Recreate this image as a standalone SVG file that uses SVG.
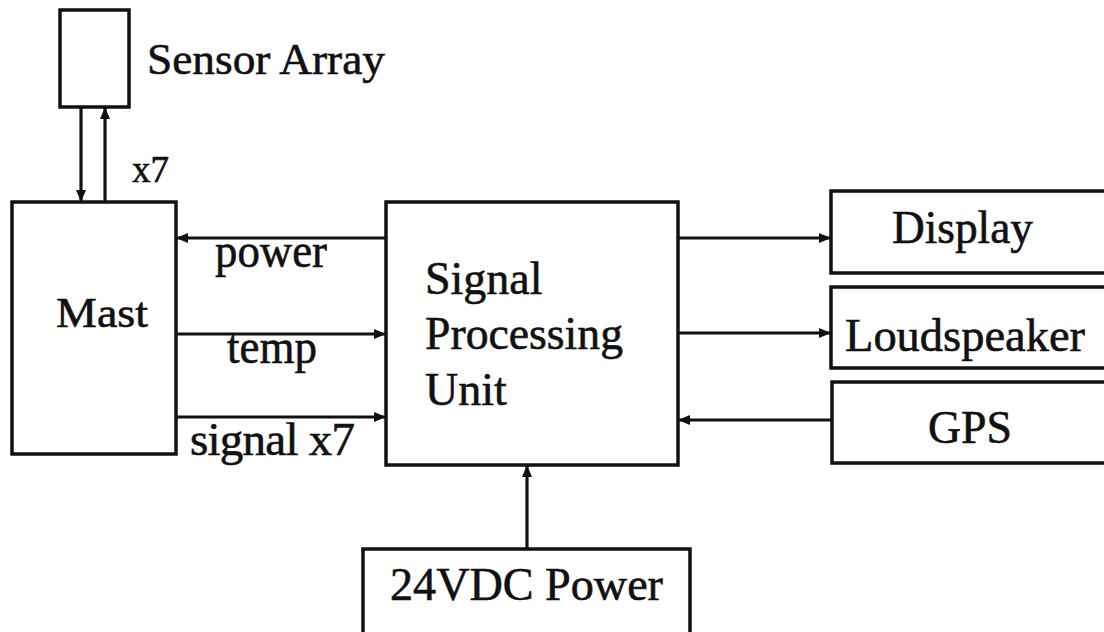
<svg xmlns="http://www.w3.org/2000/svg" width="1104" height="632" viewBox="0 0 1104 632">
<style>
.box{fill:#fff;stroke:#111;stroke-width:3.5}
.ln{fill:none;stroke:#111;stroke-width:3.2;marker-end:url(#ah)}
text{font-family:"Liberation Serif","Times New Roman",serif;font-size:45px;fill:#111;stroke:#111;stroke-width:0.6}
</style>
<defs>
<marker id="ah" markerUnits="userSpaceOnUse" markerWidth="12" markerHeight="10" refX="11" refY="5" orient="auto">
<path d="M0,0 L12,5 L0,10 Z" fill="#111"/>
</marker>
</defs>
<rect width="1104" height="632" fill="#fff"/>
<g id="connectors">
<line class="ln" x1="81" y1="107" x2="81" y2="201"/>
<line class="ln" x1="105" y1="202" x2="105" y2="108"/>
<line class="ln" x1="386" y1="238" x2="177" y2="238"/>
<line class="ln" x1="176" y1="334" x2="385" y2="334"/>
<line class="ln" x1="176" y1="417" x2="385" y2="417"/>
<line class="ln" x1="678" y1="238" x2="830" y2="238"/>
<line class="ln" x1="678" y1="333" x2="830" y2="333"/>
<line class="ln" x1="832" y1="420" x2="679" y2="420"/>
<line class="ln" x1="527" y1="549" x2="527" y2="466"/>
<text x="132" y="182" style="font-size:37px">x7</text>
<text x="215" y="267" textLength="112" lengthAdjust="spacingAndGlyphs" style="font-size:48px">power</text>
<text x="227" y="363" textLength="90" lengthAdjust="spacingAndGlyphs" style="font-size:48px">temp</text>
<text x="190" y="455" textLength="165" lengthAdjust="spacing" style="font-size:47px">signal x7</text>
</g>
<g id="sensor-array">
<rect class="box" x="60" y="10" width="69" height="97"/>
<text x="147" y="74" textLength="238" lengthAdjust="spacingAndGlyphs">Sensor Array</text>
</g>
<g id="mast">
<rect class="box" x="12" y="202" width="164" height="252"/>
<text x="56" y="327" textLength="92" lengthAdjust="spacingAndGlyphs" style="font-size:42px">Mast</text>
</g>
<g id="spu">
<rect class="box" x="386" y="202" width="292" height="263"/>
<text x="425" y="294" style="font-size:46px">Signal</text>
<text x="425" y="349" textLength="198" lengthAdjust="spacingAndGlyphs" style="font-size:46px">Processing</text>
<text x="425" y="405" style="font-size:46px">Unit</text>
</g>
<g id="display">
<rect class="box" x="831" y="191" width="290" height="82"/>
<text x="892" y="243" textLength="141" lengthAdjust="spacingAndGlyphs" style="font-size:46px">Display</text>
</g>
<g id="loudspeaker">
<rect class="box" x="831" y="287" width="290" height="81"/>
<text x="845" y="351" textLength="240" lengthAdjust="spacingAndGlyphs" style="font-size:46px">Loudspeaker</text>
</g>
<g id="gps">
<rect class="box" x="832" y="382" width="290" height="81"/>
<text x="928" y="443" textLength="84" lengthAdjust="spacingAndGlyphs" style="font-size:46px">GPS</text>
</g>
<g id="power-24vdc">
<rect class="box" x="363" y="549" width="327" height="100"/>
<text x="390" y="600" textLength="273" lengthAdjust="spacingAndGlyphs" style="font-size:46px">24VDC Power</text>
</g>
</svg>
